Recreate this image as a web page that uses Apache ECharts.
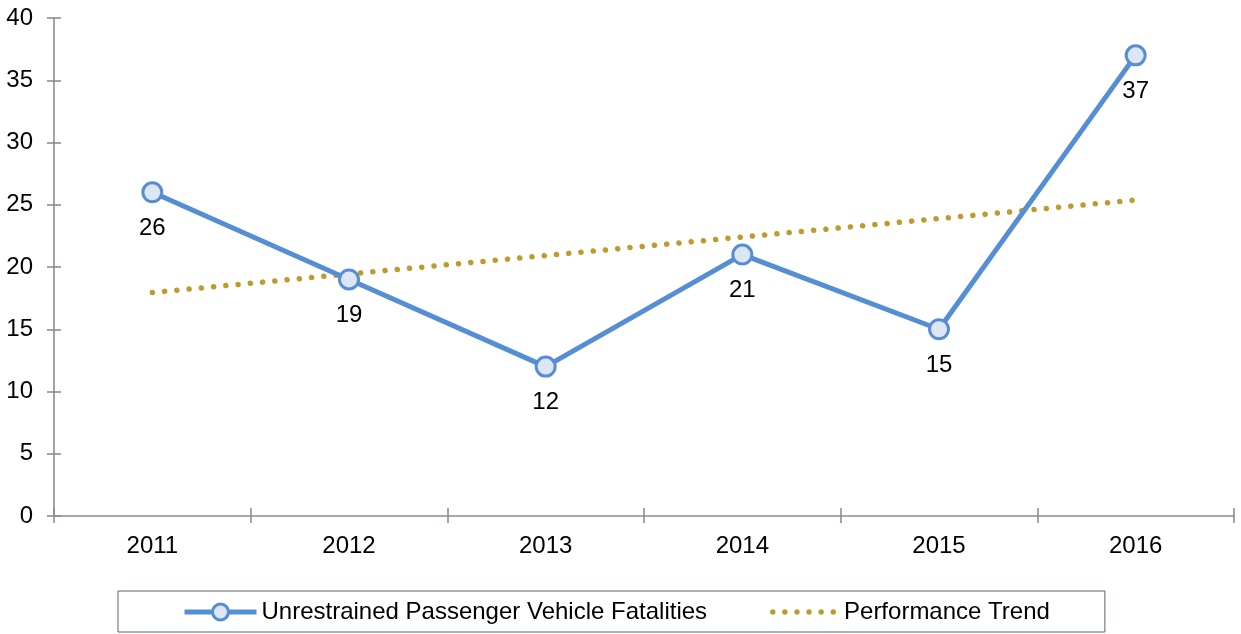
<!DOCTYPE html>
<html><head><meta charset="utf-8">
<script src="https://cdn.jsdelivr.net/npm/echarts@6/dist/echarts.min.js"></script>
<style>html,body{margin:0;padding:0;background:#fff}#c{width:1241px;height:634px}</style>
</head><body><div id="c"></div>
<script>
const years = ['2011','2012','2013','2014','2015','2016'];
const fatalities = [26, 19, 12, 21, 15, 37];
const trend = [17.95, 19.44, 20.92, 22.41, 23.89, 25.38];
const yTicks = [0, 5, 10, 15, 20, 25, 30, 35, 40];

const axisColor = '#878f94';
const gold = '#BF9A2C';
const blue = '#558ED5';
const font = 'Liberation Sans, Arial, sans-serif';

// six dots for the trend legend icon (degenerate sub-paths set the icon box height)
let dots = 'M0 0L0 0M0 20L0 20';
for (let k = 0; k < 6; k++) {
  const cx = 2.7 + k * 12.1;
  dots += 'M' + (cx - 2.7) + ' 10A2.7 2.7 0 1 0 ' + (cx + 2.7) + ' 10A2.7 2.7 0 1 0 ' + (cx - 2.7) + ' 10Z';
}

const chart = echarts.init(document.getElementById('c'), null, {renderer: 'canvas'});
chart.setOption({
  animation: false,
  grid: {left: 54, right: 7, top: 18, bottom: 118, containLabel: false},
  legend: {
    top: 591, left: 118,
    padding: [9, 55, 8, 64],
    borderColor: '#5a6470', borderWidth: 1,
    itemGap: 63, itemWidth: 72, itemHeight: 20,
    textStyle: {fontFamily: font, fontSize: 24, color: '#000'},
    data: [
      {name: 'Unrestrained Passenger Vehicle Fatalities', lineStyle: {width: 5}, itemStyle: {borderWidth: 3}},
      {name: 'Performance Trend', icon: 'path://' + dots, itemStyle: {color: gold}}
    ]
  },
  xAxis: [{
    type: 'category', data: years, boundaryGap: true,
    axisLine: {lineStyle: {color: axisColor, width: 1.6}},
    axisTick: {show: true, length: 7, lineStyle: {color: axisColor, width: 1.6}},
    axisLabel: {fontFamily: font, fontSize: 24, color: '#000', margin: 18},
    splitLine: {show: false}
  }, {
    type: 'category', data: years, boundaryGap: true, position: 'bottom',
    axisLine: {show: false},
    axisTick: {show: true, inside: true, length: 8, lineStyle: {color: axisColor, width: 1.6}},
    axisLabel: {show: false}
  }],
  yAxis: [{
    type: 'value', min: yTicks[0], max: yTicks[yTicks.length - 1], interval: 5,
    axisLine: {show: true, lineStyle: {color: axisColor, width: 1.6}},
    axisTick: {show: true, length: 7, lineStyle: {color: axisColor, width: 1.6}},
    axisLabel: {fontFamily: font, fontSize: 24, color: '#000', margin: 21},
    splitLine: {show: false}
  }, {
    type: 'value', min: yTicks[0], max: yTicks[yTicks.length - 1], interval: 5, position: 'left',
    axisLine: {show: false},
    axisTick: {show: true, inside: true, length: 7, lineStyle: {color: axisColor, width: 1.6}},
    axisLabel: {show: false}, splitLine: {show: false}
  }],
  series: [{
    name: 'Performance Trend', type: 'line', data: trend, z: 2,
    symbol: 'none',
    lineStyle: {color: gold, width: 5.5, type: [0.1, 12.2], cap: 'round'},
    itemStyle: {color: gold}
  }, {
    name: 'Unrestrained Passenger Vehicle Fatalities', type: 'line', data: fatalities, z: 3,
    symbol: 'circle', symbolSize: 19,
    lineStyle: {color: blue, width: 5},
    itemStyle: {color: '#DCE6F4', borderColor: blue, borderWidth: 3},
    label: {show: true, position: 'bottom', distance: 13, fontFamily: font, fontSize: 24, color: '#000'}
  }]
});
</script></body></html>
